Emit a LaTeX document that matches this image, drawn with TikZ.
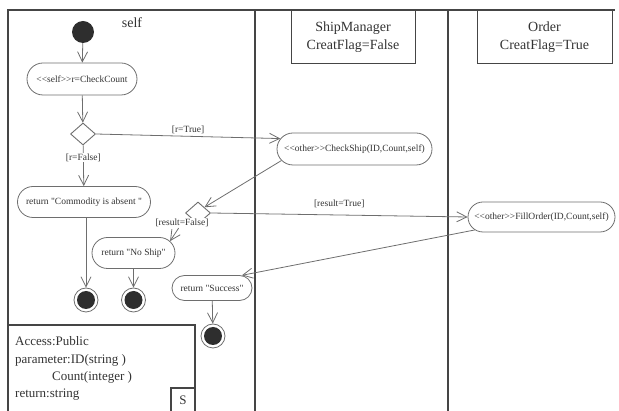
\documentclass[tikz,border=0pt]{standalone}
\usepackage{fontspec}
\setmainfont{Liberation Serif}[Ligatures=TeXOff]
\usetikzlibrary{shapes.misc,shapes.geometric,arrows.meta}
\definecolor{lineGray}{HTML}{454545}
\definecolor{boxGray}{HTML}{6E6E6E}
\definecolor{dotFill}{HTML}{2E2E2E}
\definecolor{textGray}{HTML}{333333}
\tikzset{
  action/.style={rounded rectangle, draw=boxGray, line width=0.8pt, inner sep=0pt,
    font=\fontsize{9.5}{11}\selectfont, text=textGray},
  guard/.style={font=\fontsize{9.5}{11}\selectfont, text=textGray, inner sep=1pt},
  decision/.style={diamond, draw=boxGray, line width=0.9pt, fill=white,
    minimum width=25pt, minimum height=22pt, inner sep=0pt},
  initial/.style={circle, fill=dotFill, minimum size=22pt, inner sep=0pt},
  final/.style={circle, draw=boxGray, line width=0.8pt, minimum size=24pt, inner sep=0pt,
    path picture={\fill[dotFill] (path picture bounding box.center) circle (9pt);}},
  flow/.style={draw=boxGray, line width=0.8pt, -{Straight Barb[length=10pt,width=10pt]}},
  lane/.style={draw=lineGray, line width=1.2pt},
  header/.style={draw=lineGray, line width=1pt, align=center, minimum height=53pt,
    font=\fontsize{14}{18}\selectfont, text=textGray},
  prop/.style={anchor=west, inner sep=0pt, font=\fontsize{13}{15}\selectfont, text=textGray},
}
\begin{document}
\begin{tikzpicture}[x=1pt,y=-1pt]
	\useasboundingbox (0,0) rectangle (619,411);

	% marco y carriles
	\draw[lane] (8,411) -- (8,10) -- (615,10);
	\draw[lane] (255,10) -- (255,411);
	\draw[lane] (448,10) -- (448,411);
	\node[header, minimum width=124pt, anchor=north] (shipMgr) at (353,10) {ShipManager\\CreatFlag=False};
	\node[header, minimum width=135pt, anchor=north] (order) at (544.5,10) {Order\\CreatFlag=True};
	\node[font=\fontsize{14}{16}\selectfont, text=textGray] (selfLabel) at (132,23) {self};

	% nodos
	\node[initial] (start) at (83,32) {};
	\node[action, minimum width=110pt, minimum height=32pt] (checkCount) at (82,79) {<<self>>r=CheckCount};
	\node[decision] (decide1) at (83,134) {};
	\node[action, minimum width=133pt, minimum height=31pt] (commodity) at (84,202) {return "Commodity is absent "};
	\node[action, minimum width=155pt, minimum height=32pt] (checkShip) at (354.5,149) {<<other>>CheckShip(ID,Count,self)};
	\node[decision] (decide2) at (198,213) {};
	\node[guard, fill=white] (resFalse) at (182,223) {[result=False]};
	\node[action, minimum width=83pt, minimum height=31pt] (noShip) at (133.5,253) {return "No Ship"};
	\node[action, minimum width=147pt, minimum height=30pt] (fillOrder) at (541.5,217) {<<other>>FillOrder(ID,Count,self)};
	\node[action, minimum width=80pt, minimum height=25pt] (success) at (212,288) {return "Success"};
	\node[final] (end1) at (86,300) {};
	\node[final] (end2) at (133.5,300) {};
	\node[final] (end3) at (213,336) {};

	% flujos
	\draw[flow] (start) -- (checkCount);
	\draw[flow] (checkCount) -- (decide1);
	\draw[flow] (decide1) -- node[guard, fill=white, pos=0.3] {[r=False]} (commodity);
	\draw[flow] (decide1.east) -- node[guard, above=1pt] {[r=True]} (checkShip.172);
	\draw[flow] (checkShip.189) -- (decide2.north east);
	\draw[flow] (decide2.east) -- node[guard, above=6pt] {[result=True]} (fillOrder.west);
	\draw[flow] (resFalse) -- (noShip.18);
	\draw[flow] (fillOrder.191) -- (success.23);
	\draw[flow] (commodity.south -| end1) -- (end1);
	\draw[flow] (noShip) -- (end2);
	\draw[flow] (success) -- (end3);

	% propiedades
	\draw[lane] (8,325) -- (195,325) -- (195,411);
	\draw[lane] (171,411) -- (171,388) -- (195,388);
	\node[prop] (pAccess) at (15,341) {Access:Public};
	\node[prop] (pParam) at (15,360) {parameter:ID(string )};
	\node[prop] (pCount) at (52,377) {Count(integer )};
	\node[prop] (pReturn) at (15,395) {return:string};
	\node[font=\fontsize{13}{15}\selectfont, text=textGray] (sMark) at (183,400) {S};
\end{tikzpicture}
\end{document}
